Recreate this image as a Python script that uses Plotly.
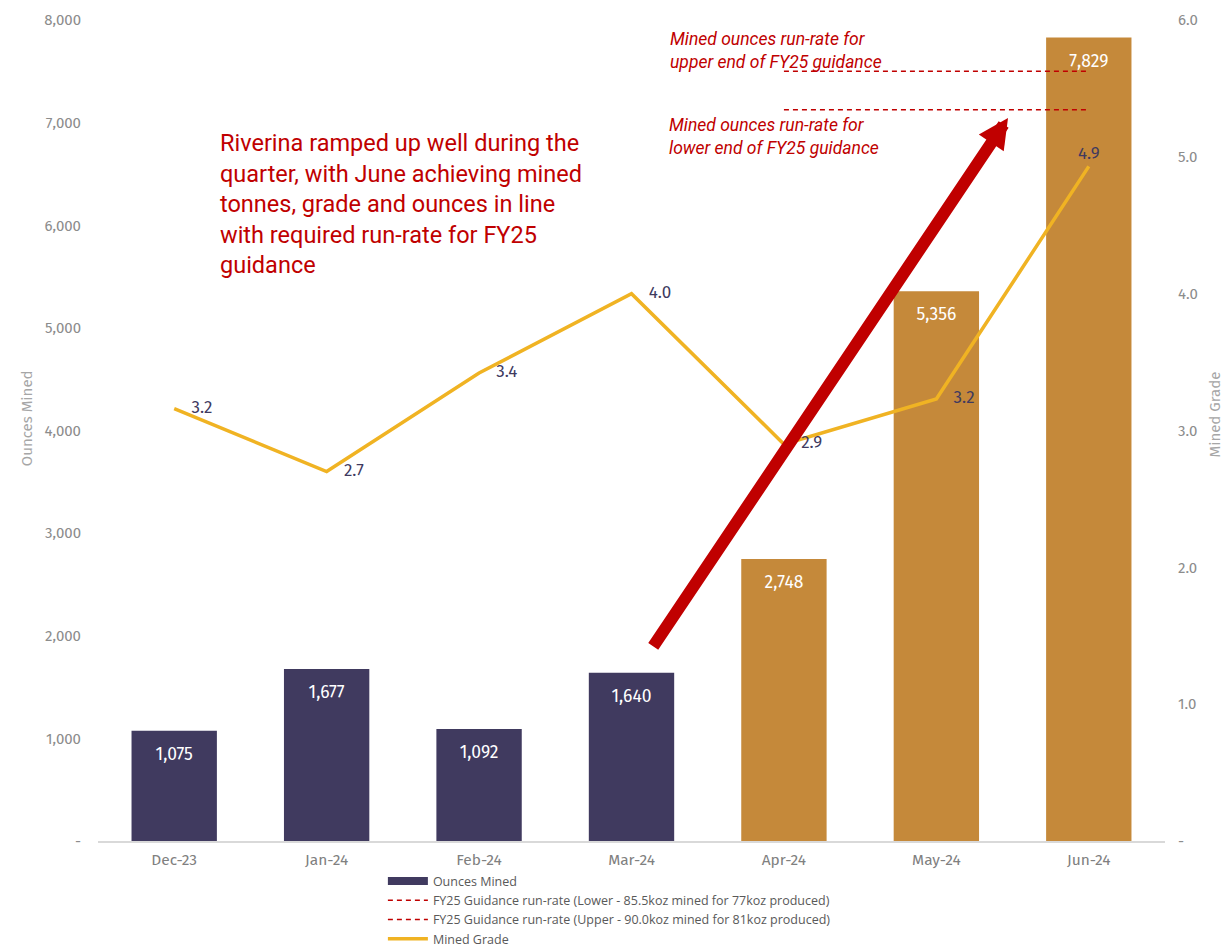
import plotly.graph_objects as go

months = ["Dec-23", "Jan-24", "Feb-24", "Mar-24", "Apr-24", "May-24", "Jun-24"]
ounces = [1075, 1677, 1092, 1640, 2748, 5356, 7829]
grade = [3.16, 2.70, 3.42, 4.00, 2.90, 3.23, 4.93]
guide_x = ["Apr-24", "May-24", "Jun-24"]
guide_lower = [7125, 7125, 7125]
guide_upper = [7500, 7500, 7500]
left_ticks = [0, 1000, 2000, 3000, 4000, 5000, 6000, 7000, 8000]
left_text = ["-", "1,000", "2,000", "3,000", "4,000", "5,000", "6,000", "7,000", "8,000"]
right_ticks = [0, 1, 2, 3, 4, 5, 6]
right_text = ["-", "1.0", "2.0", "3.0", "4.0", "5.0", "6.0"]

DARK = "#403a5f"
GOLD = "#c5893a"
YEL = "#f0b323"
RED = "#c00000"
FONT = "Fira Sans, Open Sans, sans-serif"

bar_colors = [DARK] * 4 + [GOLD] * 3
grade_pos = ["middle right"] * 6 + ["top center"]
grade_offsets = [26, 26, 26, 26, 26, 26, 4]

fig = go.Figure()
# legend swatch for bars (wide rectangle like the original legend)
fig.add_trace(go.Scatter(
    x=[None], y=[None], mode="lines", name="Ounces Mined",
    line=dict(color=DARK, width=8), legendrank=1,
))
fig.add_trace(go.Bar(
    x=months, y=ounces, name="Ounces Mined", showlegend=False,
    marker=dict(color=bar_colors, line=dict(width=0)),
))
# bar value labels
fig.add_trace(go.Scatter(
    x=months, y=ounces, mode="markers+text", showlegend=False, hoverinfo="skip",
    marker=dict(size=24, color="rgba(0,0,0,0)", line=dict(width=0)),
    text=[f"{v:,}" for v in ounces], textposition="bottom center",
    textfont=dict(color="white", size=17.5, family=FONT),
    cliponaxis=False,
))
fig.add_trace(go.Scatter(
    x=guide_x, y=guide_lower, mode="lines", legendrank=2,
    name="FY25 Guidance run-rate (Lower - 85.5koz mined for 77koz produced)",
    line=dict(color=RED, width=1.5, dash="5px,4px"),
))
fig.add_trace(go.Scatter(
    x=guide_x, y=guide_upper, mode="lines", legendrank=3,
    name="FY25 Guidance run-rate (Upper - 90.0koz mined for 81koz produced)",
    line=dict(color=RED, width=1.5, dash="5px,4px"),
))
fig.add_trace(go.Scatter(
    x=months, y=grade, mode="lines+markers+text", name="Mined Grade", yaxis="y2",
    legendrank=4,
    line=dict(color=YEL, width=3.5),
    marker=dict(size=grade_offsets, color="rgba(0,0,0,0)", line=dict(width=0)),
    text=[f"{v:.1f}" for v in grade], textposition=grade_pos,
    textfont=dict(color=DARK, size=17, family=FONT),
    cliponaxis=False,
))

# big red arrow
fig.add_annotation(
    x=5.47, y=7045, ax=3.136, ay=1881, xref="x", yref="y", axref="x", ayref="y",
    text="", showarrow=True, arrowhead=2, arrowsize=0.5, arrowwidth=12,
    arrowcolor=RED,
)
fig.add_annotation(
    xref="x", yref="y", x=0.289, y=6960, xanchor="left", yanchor="top",
    text="Riverina ramped up well during the<br>quarter, with June achieving mined<br>tonnes, grade and ounces in line<br>with required run-rate for FY25<br>guidance",
    showarrow=False, align="left",
    font=dict(family="Roboto, sans-serif", size=23.5, color=RED),
)
fig.add_annotation(
    xref="x", yref="y", x=3.24, y=7934, xanchor="left", yanchor="top",
    text="<i>Mined ounces run-rate for<br>upper end of FY25 guidance</i>",
    showarrow=False, align="left",
    font=dict(family="Roboto, sans-serif", size=17.5, color=RED),
)
fig.add_annotation(
    xref="x", yref="y", x=3.23, y=7096, xanchor="left", yanchor="top",
    text="<i>Mined ounces run-rate for<br>lower end of FY25 guidance</i>",
    showarrow=False, align="left",
    font=dict(family="Roboto, sans-serif", size=17.5, color=RED),
)
# axis titles
fig.add_annotation(
    xref="paper", yref="paper", x=-0.0665, y=0.515, text="Ounces Mined",
    textangle=-90, showarrow=False, xanchor="center", yanchor="middle",
    font=dict(family=FONT, size=15, color="#a6a6a6"),
)
fig.add_annotation(
    xref="paper", yref="paper", x=1.0465, y=0.519, text="Mined Grade",
    textangle=-90, showarrow=False, xanchor="center", yanchor="middle",
    font=dict(family=FONT, size=15, color="#a6a6a6"),
)

fig.update_layout(
    width=1225, height=950,
    margin=dict(l=98, r=60, t=20, b=109, autoexpand=False),
    paper_bgcolor="white", plot_bgcolor="white",
    bargap=0.44,
    font=dict(family=FONT, color="#808080"),
    showlegend=True,
    legend=dict(
        x=0.267, y=-0.031, xanchor="left", yanchor="top", orientation="v",
        font=dict(size=12.5, color="#595959", family="Open Sans, sans-serif"),
        itemwidth=40, tracegroupgap=0, traceorder="normal",
        bgcolor="rgba(0,0,0,0)",
    ),
    xaxis=dict(
        type="category", showgrid=False, showline=True, linecolor="#d9d9d9",
        linewidth=1.5, ticks="outside", ticklen=4, tickcolor="rgba(0,0,0,0)",
        tickfont=dict(size=15.5, color="#808080"),
        range=[-0.5, 6.5],
    ),
    yaxis=dict(
        range=[0, 8000], tickvals=left_ticks, ticktext=left_text,
        showgrid=False, zeroline=False, showline=False,
        ticks="outside", ticklen=13, tickcolor="rgba(0,0,0,0)",
        tickfont=dict(size=15, color="#8c8c8c"),
    ),
    yaxis2=dict(
        overlaying="y", side="right", range=[0, 6],
        tickvals=right_ticks, ticktext=right_text,
        showgrid=False, zeroline=False, showline=False,
        ticks="outside", ticklen=9, tickcolor="rgba(0,0,0,0)",
        tickfont=dict(size=15, color="#8c8c8c"),
    ),
)

fig.write_html("out.html")
